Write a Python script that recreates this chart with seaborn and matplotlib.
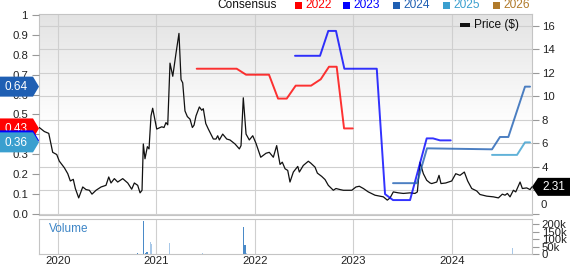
import numpy as np
import matplotlib
matplotlib.use("Agg")
import matplotlib.pyplot as plt
import seaborn as sns
from matplotlib.colors import LinearSegmentedColormap
from matplotlib.patches import Polygon, Rectangle

# ---------------- data ----------------
price_years = [2019.813, 2019.864, 2019.909, 2019.949, 2019.990, 2020.016, 2020.067, 2020.102,
               2020.128, 2020.158, 2020.179, 2020.213, 2020.254, 2020.287, 2020.321, 2020.348,
               2020.389, 2020.440, 2020.490, 2020.518, 2020.541, 2020.575, 2020.609, 2020.660,
               2020.711, 2020.751, 2020.778, 2020.812, 2020.836, 2020.856, 2020.869, 2020.886,
               2020.910, 2020.927, 2020.947, 2020.964, 2021.005, 2021.056, 2021.079, 2021.099,
               2021.117, 2021.140, 2021.168, 2021.201, 2021.231, 2021.252, 2021.269, 2021.292,
               2021.316, 2021.343, 2021.367, 2021.384, 2021.404, 2021.438, 2021.462, 2021.478,
               2021.503, 2021.529, 2021.580, 2021.607, 2021.624, 2021.641, 2021.675, 2021.716,
               2021.749, 2021.800, 2021.844, 2021.861, 2021.884, 2021.912, 2021.945, 2021.980,
               2022.013, 2022.061, 2022.115, 2022.148, 2022.189, 2022.223, 2022.257, 2022.280,
               2022.308, 2022.335, 2022.358, 2022.392, 2022.437, 2022.453, 2022.493, 2022.544,
               2022.569, 2022.612, 2022.636, 2022.680, 2022.714, 2022.747, 2022.798, 2022.825,
               2022.866, 2022.900, 2022.985, 2023.028, 2023.062, 2023.103, 2023.153, 2023.221,
               2023.306, 2023.346, 2023.374, 2023.407, 2023.458, 2023.509, 2023.577, 2023.627,
               2023.651, 2023.678, 2023.712, 2023.746, 2023.780, 2023.797, 2023.848, 2023.871,
               2023.891, 2023.939, 2024.000, 2024.041, 2024.084, 2024.128, 2024.162, 2024.203,
               2024.254, 2024.287, 2024.355, 2024.423, 2024.474, 2024.514, 2024.541, 2024.565,
               2024.592, 2024.626, 2024.650, 2024.694, 2024.717, 2024.761, 2024.795, 2024.815]
price_usd = [7.36, 7.02, 6.86, 5.25, 5.06, 4.50, 3.94, 3.43,
             2.81, 2.95, 2.17, 1.37, 2.30, 2.08, 2.02, 1.69,
             2.02, 2.30, 2.44, 3.15, 2.64, 3.01, 2.72, 3.01,
             2.64, 2.11, 2.64, 2.44, 1.80, 2.02, 5.96, 4.70,
             5.73, 5.54, 8.35, 9.00, 7.23, 7.42, 7.36, 7.78,
             7.59, 12.84, 11.72, 13.69, 15.37, 11.44, 11.16, 8.77,
             8.29, 8.07, 7.36, 7.56, 8.35, 9.11, 8.83, 8.96,
             7.70, 7.23, 6.38, 6.38, 6.66, 6.30, 6.80, 6.38,
             6.30, 5.96, 5.54, 5.82, 9.89, 6.80, 6.30, 6.66,
             6.01, 4.83, 5.17, 5.25, 4.83, 5.82, 4.22, 4.41,
             3.85, 3.71, 2.72, 3.57, 4.05, 3.57, 4.13, 4.49,
             4.33, 3.99, 3.48, 3.20, 2.93, 2.44, 2.02, 2.17,
             2.08, 2.02, 2.02, 2.30, 2.36, 2.17, 1.88, 1.60,
             1.46, 1.18, 1.37, 1.88, 1.80, 1.75, 1.80, 1.75,
             1.88, 4.41, 3.43, 2.87, 2.64, 2.59, 2.72, 3.29,
             2.59, 2.64, 2.81, 3.43, 3.29, 3.57, 2.81, 2.17,
             1.96, 1.66, 1.52, 1.46, 1.37, 1.69, 1.60, 1.75,
             1.46, 2.02, 1.88, 2.72, 2.17, 2.22, 2.08, 2.31]

cons_2022_years = [2021.411, 2021.817, 2021.912, 2022.145, 2022.237, 2022.325, 2022.416,
                   2022.572, 2022.670, 2022.754, 2022.832, 2022.907, 2022.995]
cons_2022 = [0.73, 0.73, 0.70, 0.70, 0.58, 0.58, 0.645, 0.645, 0.677, 0.74, 0.74, 0.43, 0.43]

cons_2023_years = [2022.409, 2022.663, 2022.747, 2022.825, 2022.910, 2023.239, 2023.323,
                   2023.404, 2023.577, 2023.746, 2023.810, 2023.881, 2023.990]
cons_2023 = [0.795, 0.795, 0.92, 0.92, 0.73, 0.73, 0.10, 0.07, 0.07, 0.38, 0.38, 0.37, 0.37]

cons_2024_years = [2023.404, 2023.647, 2023.749, 2024.409, 2024.490, 2024.575, 2024.744, 2024.795]
cons_2024 = [0.155, 0.155, 0.33, 0.325, 0.387, 0.387, 0.64, 0.64]

cons_2025_years = [2024.409, 2024.663, 2024.744, 2024.795]
cons_2025 = [0.297, 0.297, 0.36, 0.36]

cons_2026_years = []
cons_2026 = []

volume_years = [2020.30, 2020.812, 2020.869, 2020.889, 2020.907, 2020.944, 2020.955, 2021.133,
                2021.47, 2021.884, 2021.902, 2021.92, 2023.30, 2023.32, 2023.34, 2023.62,
                2023.64, 2023.66, 2024.619, 2024.64]
volume = [2000, 5000, 222000, 8000, 12000, 78000, 70000, 71000,
          4000, 182000, 60000, 6000, 3000, 3000, 3000, 3000,
          3000, 3000, 40000, 3000]
volume_up = [False, True, True, True, True, False, False, False,
             False, True, True, False, False, False, False, False,
             False, False, False, False]

series_names = ["2022", "2023", "2024", "2025", "2026"]
last_price = 2.31

years = [2020, 2021, 2022, 2023, 2024]
year_labels = ["2020", "2021", "2022", "2023", "2024"]
left_ticks = [0.0, 0.1, 0.2, 0.3, 0.4, 0.5, 0.6, 0.7, 0.8, 0.9, 1.0]
left_labels = ["0.0", "0.1", "0.2", "0.3", "0.4", "0.5", "0.6", "0.7", "0.8", "0.9", "1"]
right_ticks = [0, 2, 4, 6, 8, 10, 12, 14, 16]
right_labels = ["", "", "4", "6", "8", "10", "12", "14", "16"]
vol_ticks = [0, 50000, 100000, 150000, 200000]
vol_labels = ["0", "50k", "100k", "150k", "200k"]

# ---------------- style ----------------
sns.set_theme(style="white")
plt.rcParams['font.family'] = ['Liberation Sans', 'DejaVu Sans']

colors = {"2022": "#ff0000", "2023": "#0000ff", "2024": "#1f5fb3",
          "2025": "#3a9fcf", "2026": "#b07a2a"}
GRID = "#cfcfcf"
SPINE = "#c4c4c4"
TXT = "#222222"
FS = 8.2

W, H = 570, 265
fig = plt.figure(figsize=(W / 100, H / 100), dpi=100)


def rect(l, t, r, b):
    return [l / W, 1 - b / H, (r - l) / W, (b - t) / H]


XMIN, XMAX = 2019.81, 2024.815

axp = fig.add_axes(rect(39, 14, 532, 215))
axc = axp.twinx()
axv = fig.add_axes(rect(39, 218.5, 532, 254))

# background gradient
cmap = LinearSegmentedColormap.from_list("bg", [(0, "#e3e3e3"), (0.55, "#ffffff"), (1, "#ffffff")])
grad = np.linspace(0, 1, 256)[:, None]
axp.imshow(grad, cmap=cmap, aspect="auto", extent=[0, 1, 0, 1],
           transform=axp.transAxes, origin="upper", zorder=0)

# price
sns.lineplot(x=price_years, y=price_usd, ax=axp, color="#111111", lw=0.9,
             estimator=None, zorder=3)
axp.set_xlim(XMIN, XMAX)
axp.set_ylim(-0.085, 17.02)
axp.set_xticks(years)
axp.set_xticklabels([])
axp.set_yticks(right_ticks)
axp.set_yticklabels(right_labels)
axp.set_axisbelow(True)
axp.grid(True, color=GRID, lw=0.8)
axp.yaxis.set_ticks_position("right")
axp.yaxis.set_label_position("right")
axp.tick_params(axis="y", which="both", right=True, left=False, length=5, width=0.8,
                color="#999999", labelsize=FS, labelcolor=TXT, pad=2)
axp.tick_params(axis="x", length=0)
axp.set_xlabel("")
axp.set_ylabel("")
for s in axp.spines.values():
    s.set_color(SPINE)
    s.set_linewidth(0.8)

# consensus
cons_data = [(cons_2022_years, cons_2022), (cons_2023_years, cons_2023),
             (cons_2024_years, cons_2024), (cons_2025_years, cons_2025),
             (cons_2026_years, cons_2026)]
for name, (xs, ys) in zip(series_names, cons_data):
    if len(xs):
        sns.lineplot(x=xs, y=ys, ax=axc, color=colors[name], lw=1.4, alpha=0.8,
                     estimator=None)
axc.set_xlim(XMIN, XMAX)
axc.set_ylim(-0.005, 1.005)
axc.set_yticks(left_ticks)
axc.set_yticklabels(left_labels)
axc.yaxis.set_ticks_position("left")
axc.yaxis.set_label_position("left")
axc.tick_params(axis="y", left=True, right=False, length=5, width=0.8, color="#999999",
                labelsize=FS, labelcolor=TXT, pad=3)
axc.grid(False)
axc.set_ylabel("")
for s in axc.spines.values():
    s.set_visible(False)

axp.annotate("0", xy=(1, 0), xycoords=("axes fraction", "data"), xytext=(6, 3),
             textcoords="offset points", ha="left", va="bottom", fontsize=FS, color=TXT)

# volume
vcol = ["#4a8ac8" if u else "#a8c8e8" for u in volume_up]
axv.bar(volume_years, volume, width=0.012, color=vcol, linewidth=0)
axv.set_xlim(XMIN, XMAX)
axv.set_ylim(0, 237000)
axv.set_xticks(years)
axv.set_xticklabels(year_labels)
axv.set_yticks(vol_ticks)
axv.set_yticklabels(vol_labels)
axv.yaxis.set_ticks_position("right")
axv.tick_params(axis="y", right=True, left=False, length=5, width=0.8, color="#999999",
                labelsize=FS, labelcolor=TXT, pad=2)
axv.tick_params(axis="x", length=0, labelsize=FS, labelcolor=TXT, pad=1.5)
axv.grid(True, axis="x", color=GRID, lw=0.8)
axv.set_axisbelow(True)
axv.set_facecolor("white")
for s in axv.spines.values():
    s.set_color(SPINE)
    s.set_linewidth(0.8)
axv.text(0.02, 0.70, "Volume", transform=axv.transAxes, color="#3d85c6",
         fontsize=8.5, va="center", ha="left")

# overlay in pixel coordinates
ovl = fig.add_axes([0, 0, 1, 1], zorder=10)
ovl.set_xlim(0, W)
ovl.set_ylim(H, 0)
ovl.axis("off")
ovl.patch.set_alpha(0)

# legend on top
ovl.text(217, 5.5, "Consensus", fontsize=8.6, color="#111111", va="center", ha="left")
leg_x = [295, 343, 393, 443, 493]
for name, lx in zip(series_names, leg_x):
    ovl.add_patch(Rectangle((lx, 2), 7, 7, color=colors[name], lw=0))
    ovl.text(lx + 10, 5.5, name, fontsize=8.6, color=colors[name], va="center", ha="left")

# price legend
ovl.add_patch(Rectangle((460, 23), 10, 4, color="#111111", lw=0))
ovl.text(474, 25, "Price ($)", fontsize=8.6, color="#111111", va="center", ha="left")


def ypix(ax, v):
    return H - ax.transData.transform((XMIN, v))[1]


# left tags for last consensus values (drawn in stacking order; 2023 hidden under 2025)
tag_order = [("2024", cons_2024, True), ("2022", cons_2022, True),
             ("2023", cons_2023, False), ("2025", cons_2025, True)]
for i, (name, vals, show_text) in enumerate(tag_order):
    v = vals[-1]
    y = ypix(axc, v)
    h = 10
    poly = Polygon([(0, y - h), (33, y - h), (39, y), (33, y + h), (0, y + h)],
                   closed=True, fc=colors[name], ec="none", zorder=5 + 2 * i)
    ovl.add_patch(poly)
    if show_text:
        ovl.text(16, y + 0.5, f"{v:.2f}", fontsize=FS + 0.3, color="white",
                 ha="center", va="center", zorder=6 + 2 * i)

# right price tag
yp = ypix(axp, last_price)
ovl.add_patch(Polygon([(532, yp), (538, yp - 9), (570, yp - 9), (570, yp + 9), (538, yp + 9)],
                      closed=True, fc="#000000", ec="none", zorder=20))
ovl.text(554, yp + 0.5, f"{last_price:.2f}", fontsize=FS + 0.3, color="white",
         ha="center", va="center", zorder=21)

fig.savefig("out.png", dpi=100)
